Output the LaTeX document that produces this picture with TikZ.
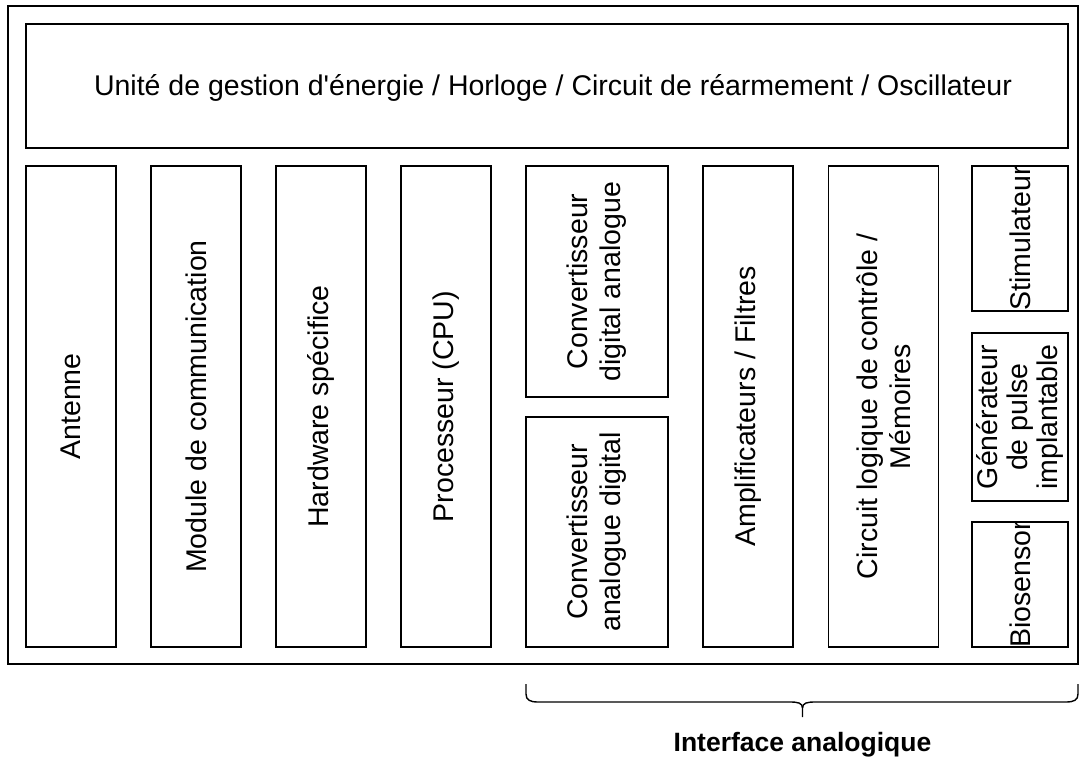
\documentclass[tikz,border=0pt]{standalone}
\usepackage{fontspec}
\setmainfont{Liberation Sans}[Ligatures=TeXOff]
\begin{document}
\begin{tikzpicture}[x=1pt,y=-1pt,
  box/.style={draw=black, line width=1.4pt, inner sep=0pt},
  vlabel/.style={rotate=90, align=center, font=\fontsize{28.5}{33}\selectfont, inner sep=0pt},
  hlabel/.style={align=center, font=\fontsize{28.5}{33}\selectfont, inner sep=0pt}]
\useasboundingbox (0,0) rectangle (1085,763);
% outer frame
\draw[line width=1.4pt] (8,6) rectangle (1078,664);
% top box
\node[box, minimum width=1042pt, minimum height=124pt] (top) at (547,86) {};
\node[hlabel, anchor=base] (toptxt) at (553,95) {Unité de gestion d'énergie / Horloge / Circuit de réarmement / Oscillateur};
% columns
\node[box, minimum width=90pt, minimum height=481pt] (ant) at (71,406.5) {};
\node[vlabel] (anttxt) at (ant) {Antenne};
\node[box, minimum width=90pt, minimum height=481pt] (mod) at (196,406.5) {};
\node[vlabel] (modtxt) at (mod) {Module de communication};
\node[box, minimum width=90pt, minimum height=481pt] (hw) at (321,406.5) {};
\node[vlabel] (hwtxt) at (hw) {Hardware spécifice};
\node[box, minimum width=90pt, minimum height=481pt] (cpu) at (446,406.5) {};
\node[vlabel] (cputxt) at (cpu) {Processeur (CPU)};
\node[box, minimum width=142pt, minimum height=231pt] (cda) at (597,281.5) {};
\node[vlabel] (cdatxt) at (cda) {Convertisseur\\digital analogue};
\node[box, minimum width=142pt, minimum height=230pt] (cad) at (597,532) {};
\node[vlabel] (cadtxt) at (cad) {Convertisseur\\analogue digital};
\node[box, minimum width=90pt, minimum height=481pt] (amp) at (748,406.5) {};
\node[vlabel] (amptxt) at (amp) {Amplificateurs / Filtres};
\node[box, minimum width=110pt, minimum height=481pt] (clc) at (883.5,406.5) {};
\node[vlabel] (clctxt) at (clc) {Circuit logique de contrôle /\\Mémoires};
\node[box, minimum width=96pt, minimum height=145pt] (stim) at (1020,238.5) {};
\node[vlabel] (stimtxt) at (stim) {Stimulateur};
\node[box, minimum width=96pt, minimum height=168pt] (gen) at (1020,417) {};
\node[vlabel, font=\fontsize{28.5}{30}\selectfont] (gentxt) at (gen) {Générateur\\de pulse\\implantable};
\node[box, minimum width=96pt, minimum height=125pt] (bio) at (1020,584.5) {};
\node[vlabel] (biotxt) at (bio) {Biosensor};
% brace
\coordinate (bl) at (526,684);
\coordinate (br) at (1078,684);
\coordinate (bt) at (802.5,717);
\draw[line width=1.4pt] (bl) -- (526,694) .. controls (526,700) and (530,702) .. (538,702)
  -- (790,702) .. controls (798,702) and (802.5,703) .. (802.5,708) -- (bt);
\draw[line width=1.4pt] (br) -- (1078,694) .. controls (1078,700) and (1074,702) .. (1066,702)
  -- (815,702) .. controls (807,702) and (802.5,703) .. (802.5,708);
\node[font=\fontsize{26.5}{30}\selectfont\bfseries, inner sep=0pt, anchor=base] (ia) at (802.5,751.5) {Interface analogique};
\end{tikzpicture}
\end{document}
